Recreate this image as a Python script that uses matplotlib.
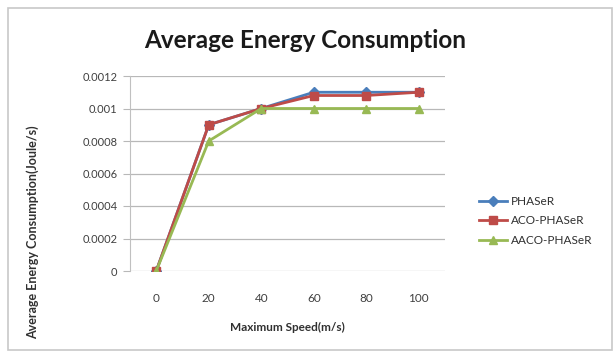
import matplotlib
matplotlib.use("Agg")
import matplotlib.pyplot as plt
from matplotlib.patches import Rectangle

plt.rcParams['font.family'] = ['Lato', 'DejaVu Sans']

categories = ["0", "20", "40", "60", "80", "100"]
phaser = [0, 0.0009, 0.001, 0.0011, 0.0011, 0.0011]
aco_phaser = [0, 0.0009, 0.001, 0.00108, 0.00108, 0.0011]
aaco_phaser = [0, 0.0008, 0.001, 0.001, 0.001, 0.001]
yticks = [0, 0.0002, 0.0004, 0.0006, 0.0008, 0.001, 0.0012]
ytick_labels = ["0", "0.0002", "0.0004", "0.0006", "0.0008", "0.001", "0.0012"]

fig = plt.figure(figsize=(6.16, 3.56), dpi=100)
fig.patches.append(Rectangle((8/616, 6/356), 604/616, 342/356, transform=fig.transFigure,
                             fill=False, edgecolor="#c8c8c8", linewidth=1.2))
ax = fig.add_axes([130/616, 1-271/356, 315/616, 195/356])
x = list(range(len(categories)))

ax.plot(x, phaser, color="#4a7ebb", marker="D", markersize=5, linewidth=2.0, label="PHASeR")
ax.plot(x, aco_phaser, color="#be4b48", marker="s", markersize=6, linewidth=2.0, label="ACO-PHASeR")
ax.plot(x, aaco_phaser, color="#98b954", marker="^", markersize=6, linewidth=2.0, label="AACO-PHASeR")

ax.set_xlim(-0.5, 5.5)
ax.set_ylim(0, 0.0012)
ax.set_xticks(x)
ax.set_xticklabels(categories)
ax.set_yticks(yticks)
ax.set_yticklabels(ytick_labels)
ax.grid(axis="y", color="#b8b8b8", linewidth=0.9)
ax.set_axisbelow(True)
for s in ["top", "right", "bottom"]:
    ax.spines[s].set_visible(False)
ax.spines["left"].set_color("#c0c0c0")
ax.tick_params(axis="y", length=5, color="#b8b8b8", labelsize=8, labelcolor="#404040", pad=4)
ax.tick_params(axis="x", length=0, labelsize=8.5, labelcolor="#404040", pad=16)

ax.set_xlabel("Maximum Speed(m/s)", fontsize=8.5, fontweight="bold", color="#303030", labelpad=13)
ax.set_ylabel("Average Energy Consumption(Joule/s)", fontsize=9, fontweight="bold", color="#303030")
ax.yaxis.set_label_coords(-0.29, 0.2, transform=ax.transAxes)

fig.text(305/616, 1-40/356, "Average Energy Consumption", ha="center", va="center",
         fontsize=17.5, fontweight="bold", color="#1a1a1a")

leg = fig.legend(loc="center left", bbox_to_anchor=(468/616, 1-221/356), frameon=False,
                 fontsize=8.5, handlelength=2.4, labelspacing=0.75, handletextpad=0.3)
for t in leg.get_texts():
    t.set_color("#303030")

fig.savefig("out.png", dpi=100)
